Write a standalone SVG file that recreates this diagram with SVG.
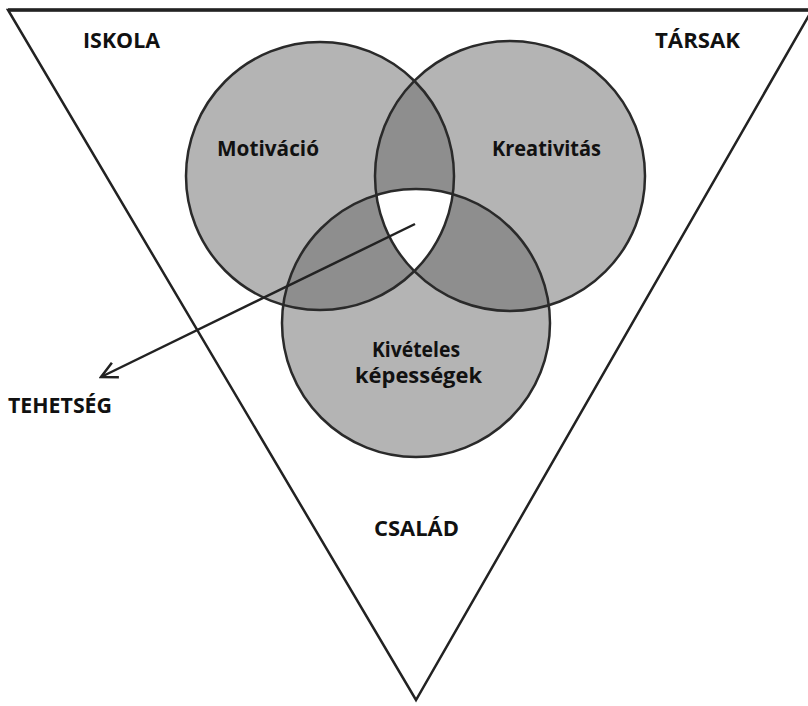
<svg xmlns="http://www.w3.org/2000/svg" width="808" height="706" viewBox="0 0 808 706">
<style>
.lbl{font-family:"Open Sans","Noto Sans","Liberation Sans",sans-serif;font-weight:bold;font-size:21px;fill:#111}
.ring{fill:none;stroke:#2a2a2a;stroke-width:2.5}
.edge{fill:none;stroke:#222;stroke-width:2.5}
</style>
<defs>
<clipPath id="cA"><circle cx="320" cy="176" r="134"/></clipPath>
<clipPath id="cB"><circle cx="510" cy="176" r="135"/></clipPath>
<clipPath id="cC"><circle cx="416" cy="323" r="134"/></clipPath>
<marker id="arr" viewBox="0 0 20 20" refX="18" refY="10" markerWidth="20" markerHeight="20" markerUnits="userSpaceOnUse" orient="auto">
<path d="M2,2 L18,10 L2,18" fill="none" stroke="#222" stroke-width="2.5"/>
</marker>
</defs>
<rect width="808" height="706" fill="#fff"/>
<g id="triangle">
<path class="edge" d="M8,10 L812,10 L416,700 Z" stroke-linejoin="miter"/>
<line x1="8" y1="10" x2="808" y2="10" stroke="#222" stroke-width="3.5"/>
</g>
<g id="motivacio">
<circle cx="320" cy="176" r="134" fill="#b4b4b4"/>
</g>
<g id="kreativitas">
<circle cx="510" cy="176" r="135" fill="#b4b4b4"/>
</g>
<g id="kepessegek">
<circle cx="416" cy="323" r="134" fill="#b4b4b4"/>
</g>
<g id="overlaps">
<circle cx="510" cy="176" r="135" fill="#8e8e8e" clip-path="url(#cA)"/>
<circle cx="416" cy="323" r="134" fill="#8e8e8e" clip-path="url(#cA)"/>
<circle cx="416" cy="323" r="134" fill="#8e8e8e" clip-path="url(#cB)"/>
<g clip-path="url(#cA)"><circle cx="416" cy="323" r="134" fill="#fff" clip-path="url(#cB)"/></g>
</g>
<g id="rings">
<circle class="ring" cx="320" cy="176" r="134"/>
<circle class="ring" cx="510" cy="176" r="135"/>
<circle class="ring" cx="416" cy="323" r="134"/>
</g>
<g id="connectors">
<line x1="415" y1="224" x2="101" y2="377" stroke="#222" stroke-width="2.5" marker-end="url(#arr)"/>
</g>
<g id="labels">
<text class="lbl" x="83" y="48" textLength="77" lengthAdjust="spacingAndGlyphs">ISKOLA</text>
<text class="lbl" x="655" y="48" textLength="85" lengthAdjust="spacingAndGlyphs">TÁRSAK</text>
<text class="lbl" x="217" y="156" textLength="102" lengthAdjust="spacingAndGlyphs">Motiváció</text>
<text class="lbl" x="492" y="156" textLength="109" lengthAdjust="spacingAndGlyphs">Kreativitás</text>
<text class="lbl" x="372" y="357" textLength="88" lengthAdjust="spacingAndGlyphs">Kivételes</text>
<text class="lbl" x="355" y="383" textLength="127" lengthAdjust="spacingAndGlyphs">képességek</text>
<text class="lbl" x="8" y="413" textLength="104" lengthAdjust="spacingAndGlyphs">TEHETSÉG</text>
<text class="lbl" x="374" y="536" textLength="85" lengthAdjust="spacingAndGlyphs">CSALÁD</text>
</g>
</svg>
